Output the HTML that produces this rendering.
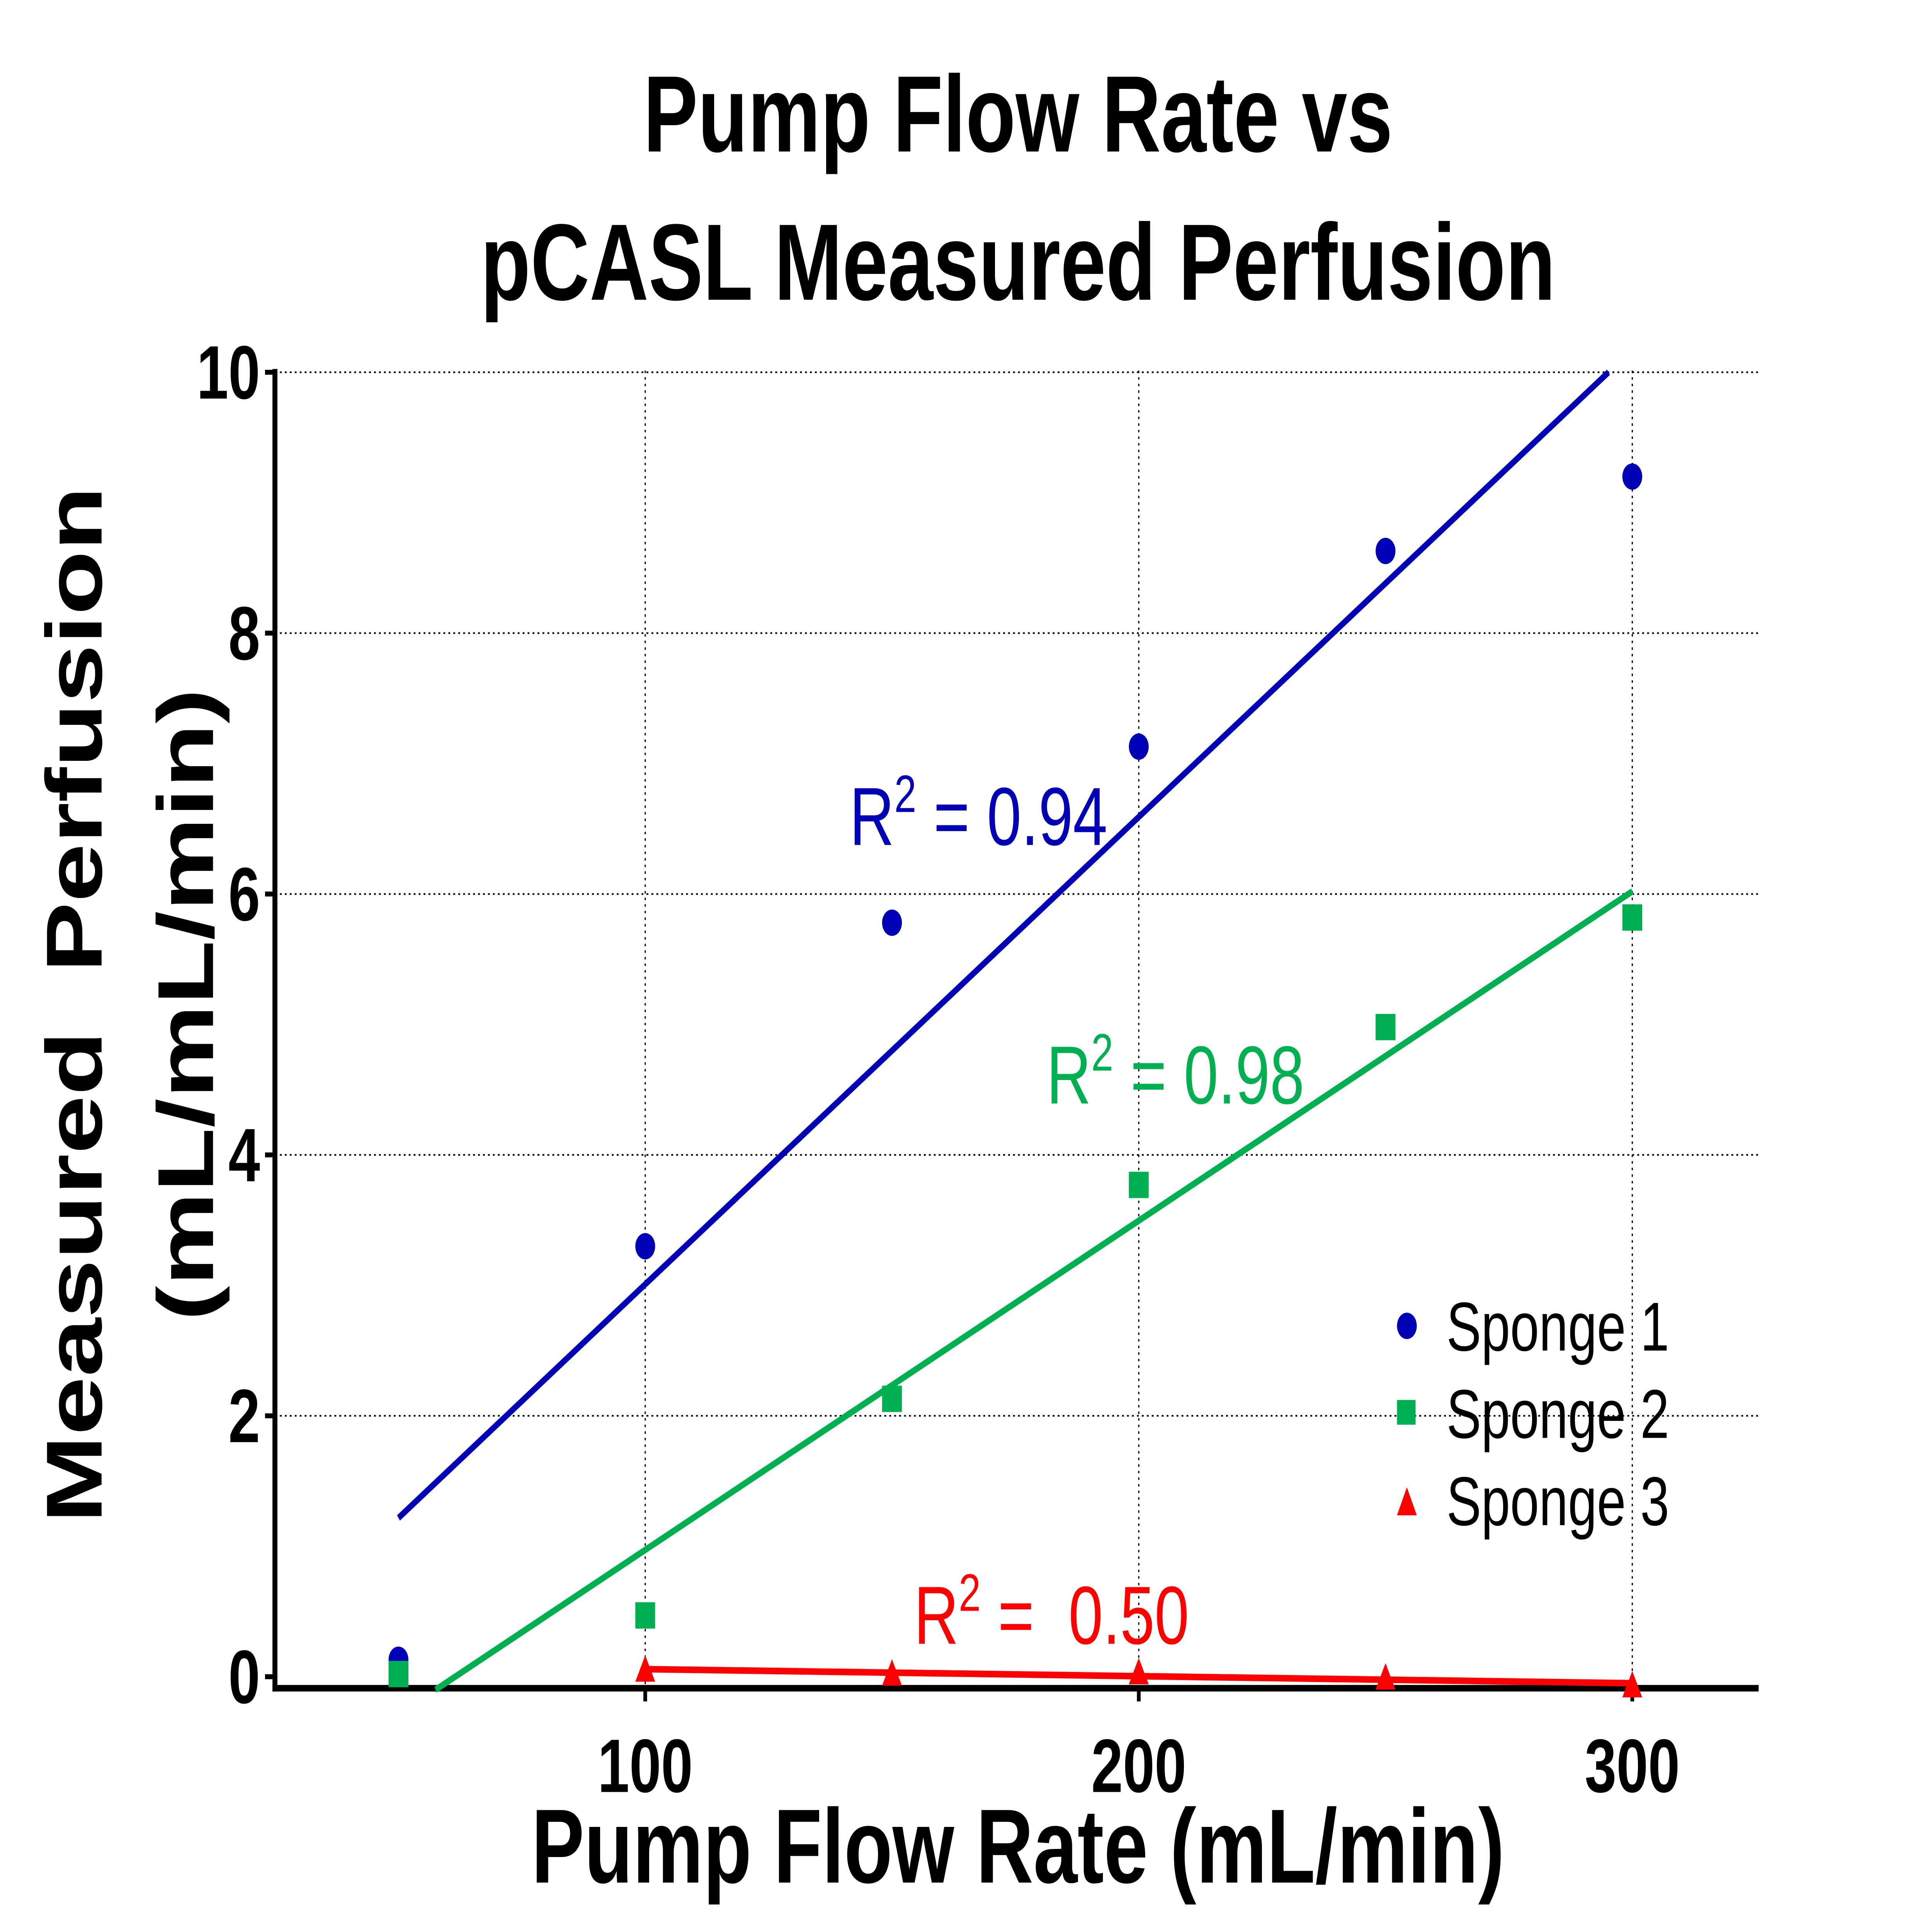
<!DOCTYPE html>
<html><head><meta charset="utf-8">
<style>
html,body{margin:0;padding:0;background:#fff;overflow:hidden;width:100%;height:100%;}
svg{display:block;width:100vw;height:100vh;}
text{font-family:"Liberation Sans",Arial,sans-serif;}
</style></head>
<body>
<svg id="chart" viewBox="0 0 1560 1173" preserveAspectRatio="none" xmlns="http://www.w3.org/2000/svg">
<rect x="0" y="0" width="1560" height="1173" fill="#fff"/>
<text x="822" y="92" text-anchor="middle" font-size="66" font-weight="bold">Pump Flow Rate vs</text>
<text x="822" y="182" text-anchor="middle" font-size="66" font-weight="bold">pCASL Measured Perfusion</text>
<g id="grid"></g>
<g id="axes"></g>
<g id="marks"></g>
<text x="822" y="1143" text-anchor="middle" font-size="64" font-weight="bold">Pump Flow Rate (mL/min)</text>
<text transform="translate(82,610) rotate(-90)" text-anchor="middle" font-size="64" font-weight="bold" xml:space="preserve">Measured  Perfusion</text>
<text transform="translate(172,610) rotate(-90)" text-anchor="middle" font-size="64" font-weight="bold">(mL/mL/min)</text>
<text x="686" y="513" font-size="50" fill="#0000b4">R<tspan dy="-20" font-size="32">2</tspan><tspan dy="20"> = 0.94</tspan></text>
<text x="845" y="670" font-size="50" fill="#00b050">R<tspan dy="-20" font-size="32">2</tspan><tspan dy="20"> = 0.98</tspan></text>
<text x="738" y="998" font-size="50" fill="#ff0000" xml:space="preserve">R<tspan dy="-20" font-size="32">2</tspan><tspan dy="20"> =  0.50</tspan></text>
<g>
<circle cx="1136" cy="805" r="8" fill="#0000b4"/>
<text x="1168" y="820" font-size="42">Sponge 1</text>
<rect x="1128" y="850" width="15" height="15" fill="#00b050"/>
<text x="1168" y="873" font-size="42">Sponge 2</text>
<polygon points="1136,903 1128,920 1144,920" fill="#ff0000"/>
<text x="1168" y="926" font-size="42">Sponge 3</text>
</g>
</svg>
<script>
const xTicks = [100, 200, 300];
const yTicks = [0, 2, 4, 6, 8, 10];
const s1x = [50, 100, 150, 200, 250, 300];
const s1y = [0.13, 3.3, 5.78, 7.13, 8.63, 9.2];
const s2x = [50, 100, 150, 200, 250, 300];
const s2y = [0.02, 0.47, 2.13, 3.77, 4.98, 5.82];
const s3x = [100, 150, 200, 250, 300];
const s3y = [0.05, 0.02, 0.03, -0.01, -0.07];

const NS = "http://www.w3.org/2000/svg";
const X = v => 521 + (v - 100) * 3.985;
const Y = v => 1018 - v * 79.2;
function mk(tag, attrs, parent) {
  const e = document.createElementNS(NS, tag);
  for (const k in attrs) e.setAttribute(k, attrs[k]);
  parent.appendChild(e);
  return e;
}
const grid = document.getElementById('grid');
const axes = document.getElementById('axes');
const marks = document.getElementById('marks');

yTicks.forEach(t => {
  if (t > 0) {
    const g = mk('line', {x1: 222, x2: 1420, y1: Y(t), y2: Y(t), stroke: '#000', 'stroke-width': 1, 'stroke-dasharray': '1.5 2.5'}, grid);
    
    
  }
  const tk = mk('line', {x1: 214, x2: 222, y1: Y(t), y2: Y(t), stroke: '#000', 'stroke-width': 3}, axes);
  
  
  const lb = mk('text', {x: 210, y: Y(t) + 16, 'text-anchor': 'end', 'font-size': 46, 'font-weight': 'bold'}, axes);
  lb.textContent = t;
  
  
});
xTicks.forEach(t => {
  const g = mk('line', {x1: X(t), x2: X(t), y1: 225, y2: 1025, stroke: '#000', 'stroke-width': 1, 'stroke-dasharray': '1.5 2.5'}, grid);
  
  
  const tk = mk('line', {x1: X(t), x2: X(t), y1: 1025, y2: 1033, stroke: '#000', 'stroke-width': 3}, axes);
  
  
  const lb = mk('text', {x: X(t), y: 1088, 'text-anchor': 'middle', 'font-size': 46, 'font-weight': 'bold'}, axes);
  lb.textContent = t;
  
  
});
const ya = mk('line', {x1: 222, x2: 222, y1: 224, y2: 1027, stroke: '#000', 'stroke-width': 4}, axes);


const xa = mk('line', {x1: 220, x2: 1420, y1: 1025, y2: 1025, stroke: '#000', 'stroke-width': 4}, axes);



function fit(xs, ys) {
  const n = xs.length;
  const mx = xs.reduce((a, b) => a + b, 0) / n, my = ys.reduce((a, b) => a + b, 0) / n;
  let sxy = 0, sxx = 0;
  for (let i = 0; i < n; i++) { sxy += (xs[i] - mx) * (ys[i] - my); sxx += (xs[i] - mx) ** 2; }
  const m = sxy / sxx;
  return [m, my - m * mx];
}
function drawFit(xs, ys, color, name) {
  const [m, b] = fit(xs, ys);
  let x0 = Math.min(...xs), x1 = Math.max(...xs);
  const ymin = -0.1, ymax = 10;
  const clip = x => {
    const y = m * x + b;
    if (y > ymax) return (ymax - b) / m;
    if (y < ymin) return (ymin - b) / m;
    return x;
  };
  x0 = clip(x0); x1 = clip(x1);
  const l = mk('line', {x1: X(x0), y1: Y(m * x0 + b), x2: X(x1), y2: Y(m * x1 + b), stroke: color, 'stroke-width': 4}, marks);
  
  
}
drawFit(s1x, s1y, '#0000b4', 'fit-line-sponge-1');
drawFit(s2x, s2y, '#00b050', 'fit-line-sponge-2');
drawFit(s3x, s3y, '#ff0000', 'fit-line-sponge-3');

s1x.forEach((x, i) => {
  const c = mk('circle', {cx: X(x), cy: Y(s1y[i]), r: 8, fill: '#0000b4'}, marks);
  
  
});
s2x.forEach((x, i) => {
  const r = mk('rect', {x: X(x) - 8, y: Y(s2y[i]) - 8, width: 16, height: 16, fill: '#00b050'}, marks);
  
  
});
s3x.forEach((x, i) => {
  const cx = X(x), cy = Y(s3y[i]);
  const p = mk('polygon', {points: `${cx},${cy - 9} ${cx - 8},${cy + 7} ${cx + 8},${cy + 7}`, fill: '#ff0000'}, marks);
  
  
});
</script>
</body></html>
